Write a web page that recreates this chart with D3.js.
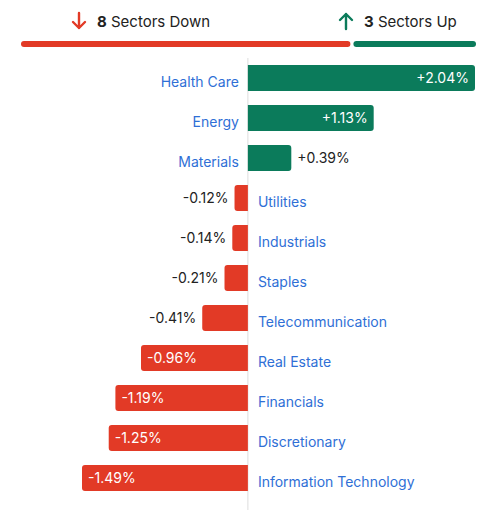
<!DOCTYPE html>
<html><head><meta charset="utf-8">
<script src="https://cdn.jsdelivr.net/npm/d3@7"></script>
<style>body{margin:0;background:#fff;font-family:Inter,"Noto Sans",sans-serif;}</style>
</head><body><svg id="c" width="487" height="510"></svg>
<script>
var sectors = ['Health Care','Energy','Materials','Utilities','Industrials','Staples','Telecommunication','Real Estate','Financials','Discretionary','Information Technology'];
var changes = [2.04, 1.13, 0.39, -0.12, -0.14, -0.21, -0.41, -0.96, -1.19, -1.25, -1.49];
var downCount = 8, upCount = 3;

var GREEN = '#0b7b5b', RED = '#e23a26', BLUE = '#2f6fd6';
var svg = d3.select('#c');

// header
var hx = d3.scaleLinear().domain([0, downCount + upCount]).range([21, 476]);
svg.append('rect').attr('x', hx(0)).attr('y', 41).attr('width', hx(downCount) - hx(0) - 1.5).attr('height', 6).attr('rx', 3).attr('fill', RED);
svg.append('rect').attr('x', hx(downCount) + 1.5).attr('y', 41).attr('width', hx(downCount + upCount) - hx(downCount) - 1.5).attr('height', 6).attr('rx', 3).attr('fill', GREEN);

function arrow(x, y, up, col) {
  var g = svg.append('g').attr('transform', 'translate(' + x + ',' + y + ')').attr('stroke', col).attr('stroke-width', 2.4).attr('fill', 'none').attr('stroke-linecap', 'round').attr('stroke-linejoin', 'round');
  if (up) { g.append('path').attr('d', 'M0,8V-7M-6,-1L0,-7L6,-1'); }
  else { g.append('path').attr('d', 'M0,-8V7M-6,1L0,7L6,1'); }
}
arrow(79, 21, false, RED);
arrow(346, 21, true, GREEN);
var t1 = svg.append('text').attr('x', 97).attr('y', 27).attr('font-size', 15).attr('fill', '#222');
t1.append('tspan').attr('font-weight', 700).text(downCount);
t1.append('tspan').text(' Sectors Down');
var t2 = svg.append('text').attr('x', 364).attr('y', 27).attr('font-size', 15).attr('fill', '#222');
t2.append('tspan').attr('font-weight', 700).text(upCount);
t2.append('tspan').text(' Sectors Up');

// bars
var x = d3.scaleLinear().domain([-1.49, 2.04]).range([82, 475]);
var y = d3.scaleBand().domain(sectors).range([58, 498]).paddingInner(0.35).paddingOuter(0.175);
var x0 = x(0);
svg.append('line').attr('x1', x0).attr('x2', x0).attr('y1', 58).attr('y2', 510).attr('stroke', '#ddd');

var data = sectors.map(function (s, i) { return {s: s, v: changes[i]}; });
var rr = 3;
function barPath(d) {
  var yy = y(d.s), h = y.bandwidth(), xe = x(d.v);
  if (d.v >= 0) return 'M' + x0 + ',' + yy + 'H' + (xe - rr) + 'Q' + xe + ',' + yy + ' ' + xe + ',' + (yy + rr) + 'V' + (yy + h - rr) + 'Q' + xe + ',' + (yy + h) + ' ' + (xe - rr) + ',' + (yy + h) + 'H' + x0 + 'Z';
  return 'M' + x0 + ',' + yy + 'H' + (xe + rr) + 'Q' + xe + ',' + yy + ' ' + xe + ',' + (yy + rr) + 'V' + (yy + h - rr) + 'Q' + xe + ',' + (yy + h) + ' ' + (xe + rr) + ',' + (yy + h) + 'H' + x0 + 'Z';
}
var g = svg.selectAll('g.row').data(data).enter().append('g').attr('class', 'row');
g.append('path').attr('d', barPath).attr('fill', function (d) { return d.v >= 0 ? GREEN : RED; });
function fmt(v) { return (v > 0 ? '+' : '') + v.toFixed(2) + '%'; }
g.append('text')
  .attr('y', function (d) { return y(d.s) + y.bandwidth() / 2 + 5; })
  .attr('font-size', 14)
  .each(function (d) {
    var inside = Math.abs(d.v) >= 0.5, t = d3.select(this);
    t.text(fmt(d.v)).attr('fill', inside ? '#fff' : '#222');
    if (d.v >= 0) t.attr('x', inside ? x(d.v) - 6 : x(d.v) + 6).attr('text-anchor', inside ? 'end' : 'start');
    else t.attr('x', inside ? x(d.v) + 6 : x(d.v) - 6).attr('text-anchor', inside ? 'start' : 'end');
  });
g.append('text')
  .attr('y', function (d) { return y(d.s) + y.bandwidth() / 2 + 9; })
  .attr('x', function (d) { return d.v >= 0 ? x0 - 9 : x0 + 10; })
  .attr('text-anchor', function (d) { return d.v >= 0 ? 'end' : 'start'; })
  .attr('font-size', 14).attr('fill', BLUE)
  .text(function (d) { return d.s; });
</script></body></html>
